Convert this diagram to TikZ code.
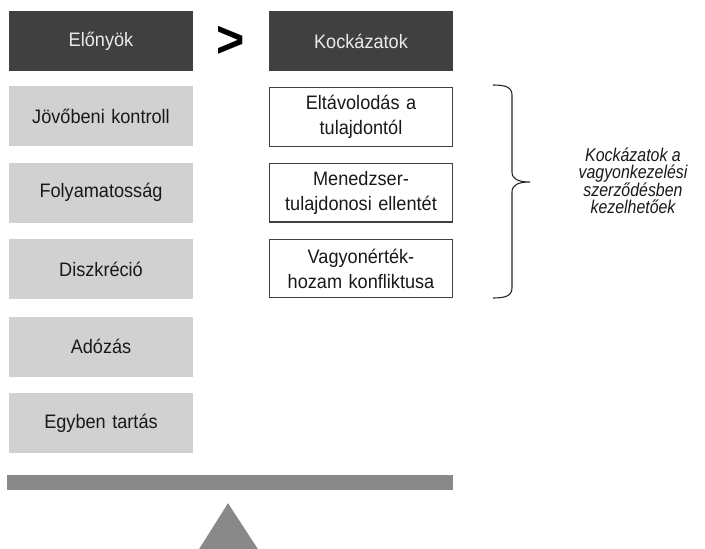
\documentclass[tikz,border=0pt]{standalone}
\usepackage{xcolor}
\usepackage{fontspec}
\setmainfont{Liberation Sans}[FakeStretch=0.93]
\newfontfamily\cimkefont{Liberation Sans Italic}[FakeStretch=0.86]
\usepackage{tikz}
\usetikzlibrary{positioning,calc}

\definecolor{sotet}{HTML}{404040}
\definecolor{vilagos}{HTML}{D1D1D1}
\definecolor{merlegszin}{HTML}{898989}

\begin{document}
\begin{tikzpicture}[node distance=16pt,
    block/.style={rectangle, text width=180pt, text centered, minimum width=184pt, minimum height=60pt,
        inner sep=0pt, font=\fontsize{19.5}{25}\selectfont, text=black!90},
    fej/.style={block, fill=sotet, text=white!92!black},
    elony/.style={block, fill=vilagos},
    kockazat/.style={block, draw=sotet, line width=1.2pt, fill=white, minimum width=183pt, minimum height=58.5pt}]

    \useasboundingbox (0,0) rectangle (705pt,-549pt);

    % Left side - Előnyök
    \node[fej] (elonyok) at (101pt,-41pt) {Előnyök};
    \node[elony, below=15pt of elonyok] (jovobeni) {Jövőbeni kontroll};
    \node[elony, below=of jovobeni] (folyamatos) {Folyamatosság};
    \node[elony, below=of folyamatos] (diszkrecio) {Diszkréció};
    \node[elony, below=17pt of diszkrecio] (adozas) {Adózás};
    \node[elony, below=of adozas] (egyben) {Egyben tartás};

    % Right side - Kockázatok
    \node[fej] (kockazatok) at (361pt,-41pt) {Kockázatok};
    \node[kockazat, below=16pt of kockazatok] (eltavolodas) {Eltávolodás a\\tulajdontól};
    \node[kockazat, below=of eltavolodas] (menedzser) {Menedzser-\\tulajdonosi ellentét};
    \node[kockazat, below=of menedzser] (vagyon) {Vagyonérték-\\hozam konfliktusa};

    % Greater sign
    \node (nagyobb) at ($(elonyok.east)!0.5!(kockazatok.west)+(0,-1pt)$) {\fontsize{52}{52}\selectfont\bfseries >};

    % Brace and label
    \draw[line width=1.1pt, sotet!60!black] (493pt,-85pt) .. controls (505pt,-85pt) and (512pt,-87pt) .. (512pt,-95pt)
        -- (512pt,-172pt) .. controls (512pt,-179pt) and (518pt,-182pt) .. (530pt,-182pt)
        .. controls (518pt,-182pt) and (512pt,-185pt) .. (512pt,-192pt)
        -- (512pt,-288pt) .. controls (512pt,-296pt) and (505pt,-298pt) .. (493pt,-298pt);
    \node[align=center, font=\cimkefont\fontsize{18.5}{16.7}\selectfont, text=black!90] (cimke) at (633pt,-181pt)
        {Kockázatok a\\vagyonkezelési\\szerződésben\\kezelhetőek};

    % Scale
    \node[rectangle, fill=merlegszin, minimum width=446pt, minimum height=15pt, inner sep=0pt] (merleg) at (230pt,-482.5pt) {};
    \coordinate (csucs) at ($(merleg.south)+(-2pt,-13pt)$);
    \fill[merlegszin] (csucs) -- ($(csucs)+(30pt,-46pt)$) -- ($(csucs)+(-29pt,-46pt)$) -- cycle;

\end{tikzpicture}
\end{document}
